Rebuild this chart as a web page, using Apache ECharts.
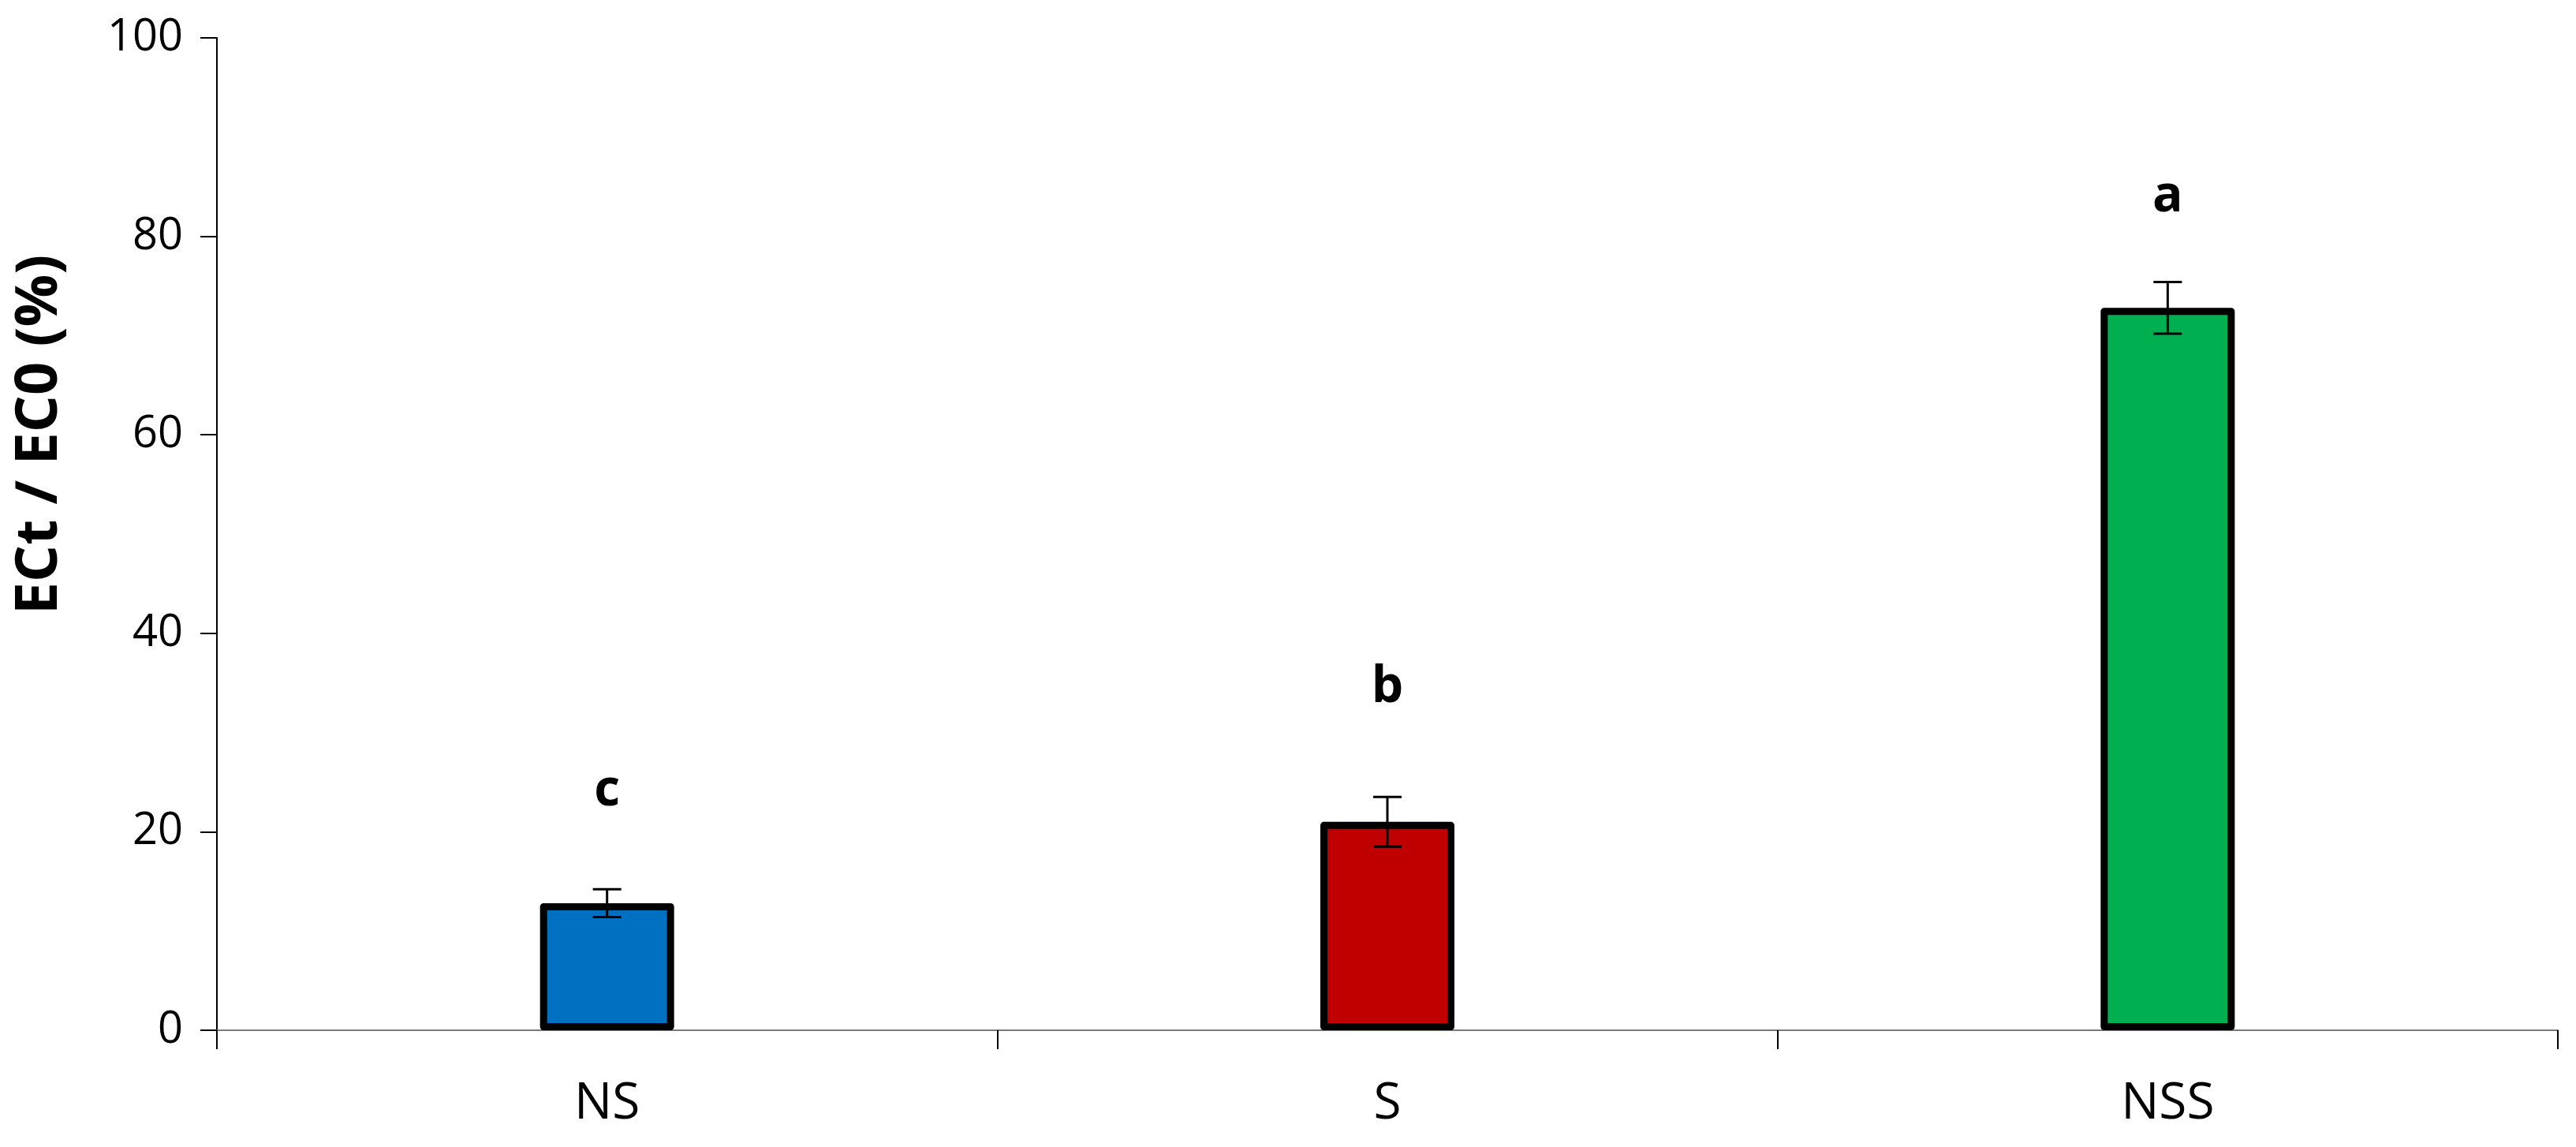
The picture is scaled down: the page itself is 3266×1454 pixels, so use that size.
<!DOCTYPE html>
<html>
<head>
<meta charset="utf-8">
<script src="https://cdn.jsdelivr.net/npm/echarts@6/dist/echarts.min.js"></script>
<style>
  html, body { margin: 0; padding: 0; background: #fff; }
  #chart { width: 3266px; height: 1454px; }
</style>
</head>
<body>
<div id="chart"></div>
<script>
// 数据
var categories = ['NS', 'S', 'NSS'];
var means = [12.8, 21.0, 72.8];
var errors = [1.4, 2.5, 2.6];
var barColors = ['#0070C0', '#C00000', '#00B050'];
var letters = ['c', 'b', 'a'];
var letterY = [24.1, 34.5, 84.0];
var yTicks = { min: 0, max: 100, interval: 20 };

var FONT = '"Open Sans", "Liberation Sans", sans-serif';

var chart = echarts.init(document.getElementById('chart'));

var option = {
    backgroundColor: '#ffffff',
    animation: false,
    grid: { left: 275, right: 23, top: 48, bottom: 148 },
    xAxis: {
        type: 'category',
        data: categories,
        boundaryGap: true,
        axisLine: { lineStyle: { color: '#7a7a7a', width: 2 } },
        axisTick: { show: true, inside: false, length: 24, alignWithLabel: false,
            lineStyle: { color: '#000', width: 2 } },
        axisLabel: { fontFamily: FONT, fontSize: 64, color: '#000', margin: 62 }
    },
    yAxis: {
        type: 'value',
        min: yTicks.min,
        max: yTicks.max,
        interval: yTicks.interval,
        splitLine: { show: false },
        axisLine: { show: true, lineStyle: { color: '#000', width: 2 } },
        axisTick: { show: true, length: 21, lineStyle: { color: '#000', width: 2 } },
        axisLabel: { fontFamily: FONT, fontSize: 56, color: '#000', margin: 43 }
    },
    graphic: [{
        type: 'text',
        x: 51,
        y: 551,
        rotation: Math.PI / 2,
        style: {
            text: 'ECt / EC0 (%)',
            fontFamily: FONT,
            fontSize: 74,
            fontWeight: 'bold',
            fill: '#000',
            align: 'center',
            verticalAlign: 'middle'
        }
    }],
    series: [
        {
            type: 'bar',
            barWidth: 170,
            data: means.map(function (v, i) {
                return {
                    value: v,
                    itemStyle: { color: barColors[i], borderColor: '#000', borderWidth: 9, borderJoin: 'round' }
                };
            }),
            z: 2
        },
        {
            // 误差线
            type: 'custom',
            z: 3,
            data: means.map(function (v, i) { return [i, v - errors[i], v + errors[i]]; }),
            renderItem: function (params, api) {
                var lo = api.coord([api.value(0), api.value(1)]);
                var hi = api.coord([api.value(0), api.value(2)]);
                var half = 18;
                var style = { stroke: '#000', lineWidth: 3 };
                return {
                    type: 'group',
                    children: [
                        { type: 'line', shape: { x1: hi[0], y1: hi[1], x2: lo[0], y2: lo[1] }, style: style },
                        { type: 'line', shape: { x1: hi[0] - half, y1: hi[1], x2: hi[0] + half, y2: hi[1] }, style: style },
                        { type: 'line', shape: { x1: lo[0] - half, y1: lo[1], x2: lo[0] + half, y2: lo[1] }, style: style }
                    ]
                };
            }
        },
        {
            // 显著性字母
            type: 'scatter',
            symbolSize: 0,
            itemStyle: { opacity: 1 },
            data: letterY.map(function (v, i) { return [i, v]; }),
            label: {
                show: true,
                position: 'inside',
                formatter: function (p) { return letters[p.dataIndex]; },
                fontFamily: FONT,
                fontSize: 64,
                fontWeight: 'bold',
                color: '#000',
                opacity: 1
            },
            z: 4
        }
    ]
};

chart.setOption(option);
</script>
</body>
</html>
